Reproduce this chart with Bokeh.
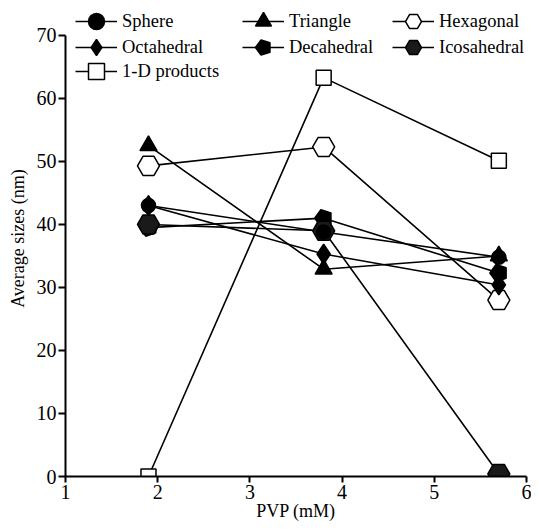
import math
from bokeh.plotting import figure
from bokeh.models import Range1d, Legend, LegendItem, FixedTicker
from bokeh.embed import file_html
from bokeh.resources import INLINE

# ---- data ----
pvp = [1.9, 3.8, 5.7]
sphere = [43.0, 38.8, 34.8]
triangle = [52.5, 32.9, 35.0]
hexagonal = [49.3, 52.3, 28.0]
octahedral = [43.0, 35.3, 30.4]
decahedral = [39.5, 41.0, 32.3]
icosahedral = [40.0, 39.0, 0.4]
one_d = [0.0, 63.3, 50.1]
x_ticks = [1, 2, 3, 4, 5, 6]
y_ticks = [0, 10, 20, 30, 40, 50, 60, 70]
legend_rows = [
    ["Sphere", "Triangle", "Hexagonal"],
    ["Octahedral", "Decahedral", "Icosahedral"],
    ["1-D products"],
]

FONT = "Liberation Serif"
W, H = 531, 523
LEFT, RIGHT, BOTTOM = 65, 5, 46
AXIS_TOP_PX = 35          # pixel row of the "70" tick
Y_MAX = 70
frame_h = H - BOTTOM
px_per_unit = (frame_h - AXIS_TOP_PX) / Y_MAX
y_top = Y_MAX + AXIS_TOP_PX / px_per_unit

p = figure(width=W, height=H, output_backend="svg", toolbar_location=None,
           x_range=Range1d(1, 6), y_range=Range1d(0, y_top),
           min_border_left=LEFT, min_border_right=RIGHT,
           min_border_top=0, min_border_bottom=BOTTOM)
p.outline_line_color = None
p.xgrid.visible = False
p.ygrid.visible = False
p.background_fill_color = "white"

for ax in (p.xaxis[0], p.yaxis[0]):
    ax.axis_line_width = 2
    ax.major_tick_line_width = 2
    ax.major_tick_in = 0
    ax.minor_tick_line_color = None
    ax.major_label_text_font = FONT
    ax.major_label_text_font_size = "20px"
    ax.major_label_text_color = "black"
    ax.axis_label_text_font = FONT
    ax.axis_label_text_font_size = "18px"
    ax.axis_label_text_font_style = "normal"
    ax.axis_label_text_color = "black"
p.xaxis.ticker = FixedTicker(ticks=x_ticks)
p.yaxis.ticker = FixedTicker(ticks=y_ticks)
p.yaxis.bounds = (0, Y_MAX)
p.xaxis.axis_label = "PVP (mM)"
p.yaxis.axis_label = "Average sizes (nm)"
p.xaxis.major_tick_out = 6
p.yaxis.major_tick_out = 7
p.xaxis.major_label_standoff = 2
p.yaxis.major_label_standoff = 2
p.xaxis.axis_label_standoff = -1
p.yaxis.axis_label_standoff = 6

LW = 1.6
# (name, values, marker, size, fill)   -- "ngonN" = regular N-gon, pointy top
series = [
    ("1-D products", one_d, "square", 15, "white"),
    ("Hexagonal", hexagonal, "ngon6", 11, "white"),
    ("Triangle", triangle, "triangle", 17, "black"),
    ("Octahedral", octahedral, "diamond", 20, "black"),
    ("Decahedral", decahedral, "ngon5", 9, "black"),
    ("Icosahedral", icosahedral, "ngon6", 11, "#1a1a1a"),
    ("Sphere", sphere, "circle", 14, "black"),
]

lines = {}
for name, vals, *_ in series:
    lines[name] = p.line(pvp, vals, line_color="black", line_width=LW)

marks = {}
for name, vals, marker, size, fill in series:
    if marker.startswith("ngon"):
        marks[name] = p.ngon(x=pvp, y=vals, radius=size, radius_units="screen",
                             n=int(marker[4:]), angle=math.pi / 2, fill_color=fill,
                             line_color="black", line_width=1.5)
    else:
        marks[name] = p.scatter(pvp, vals, marker=marker, size=size,
                                fill_color=fill, line_color="black", line_width=1.5)

# one small legend per entry, laid out as the reference's 3-column grid
GH = 40
col_x = [10, 177, 327]      # from frame left, px
row_y = [22, 48, 72]        # centre rows, px from top
for r, row in enumerate(legend_rows):
    for c, name in enumerate(row):
        vy = frame_h - (row_y[r] + GH / 2)
        leg = Legend(items=[LegendItem(label=name, renderers=[lines[name], marks[name]])],
                     location=(col_x[c], vy),
                     orientation="vertical", padding=0, margin=0, spacing=0,
                     glyph_width=42, glyph_height=GH, label_height=20,
                     label_standoff=5, border_line_color=None,
                     background_fill_alpha=0, label_text_font=FONT,
                     label_text_font_size="18.5px", label_text_color="black")
        p.add_layout(leg, "center")

open("out.html", "w").write(file_html(p, INLINE))
